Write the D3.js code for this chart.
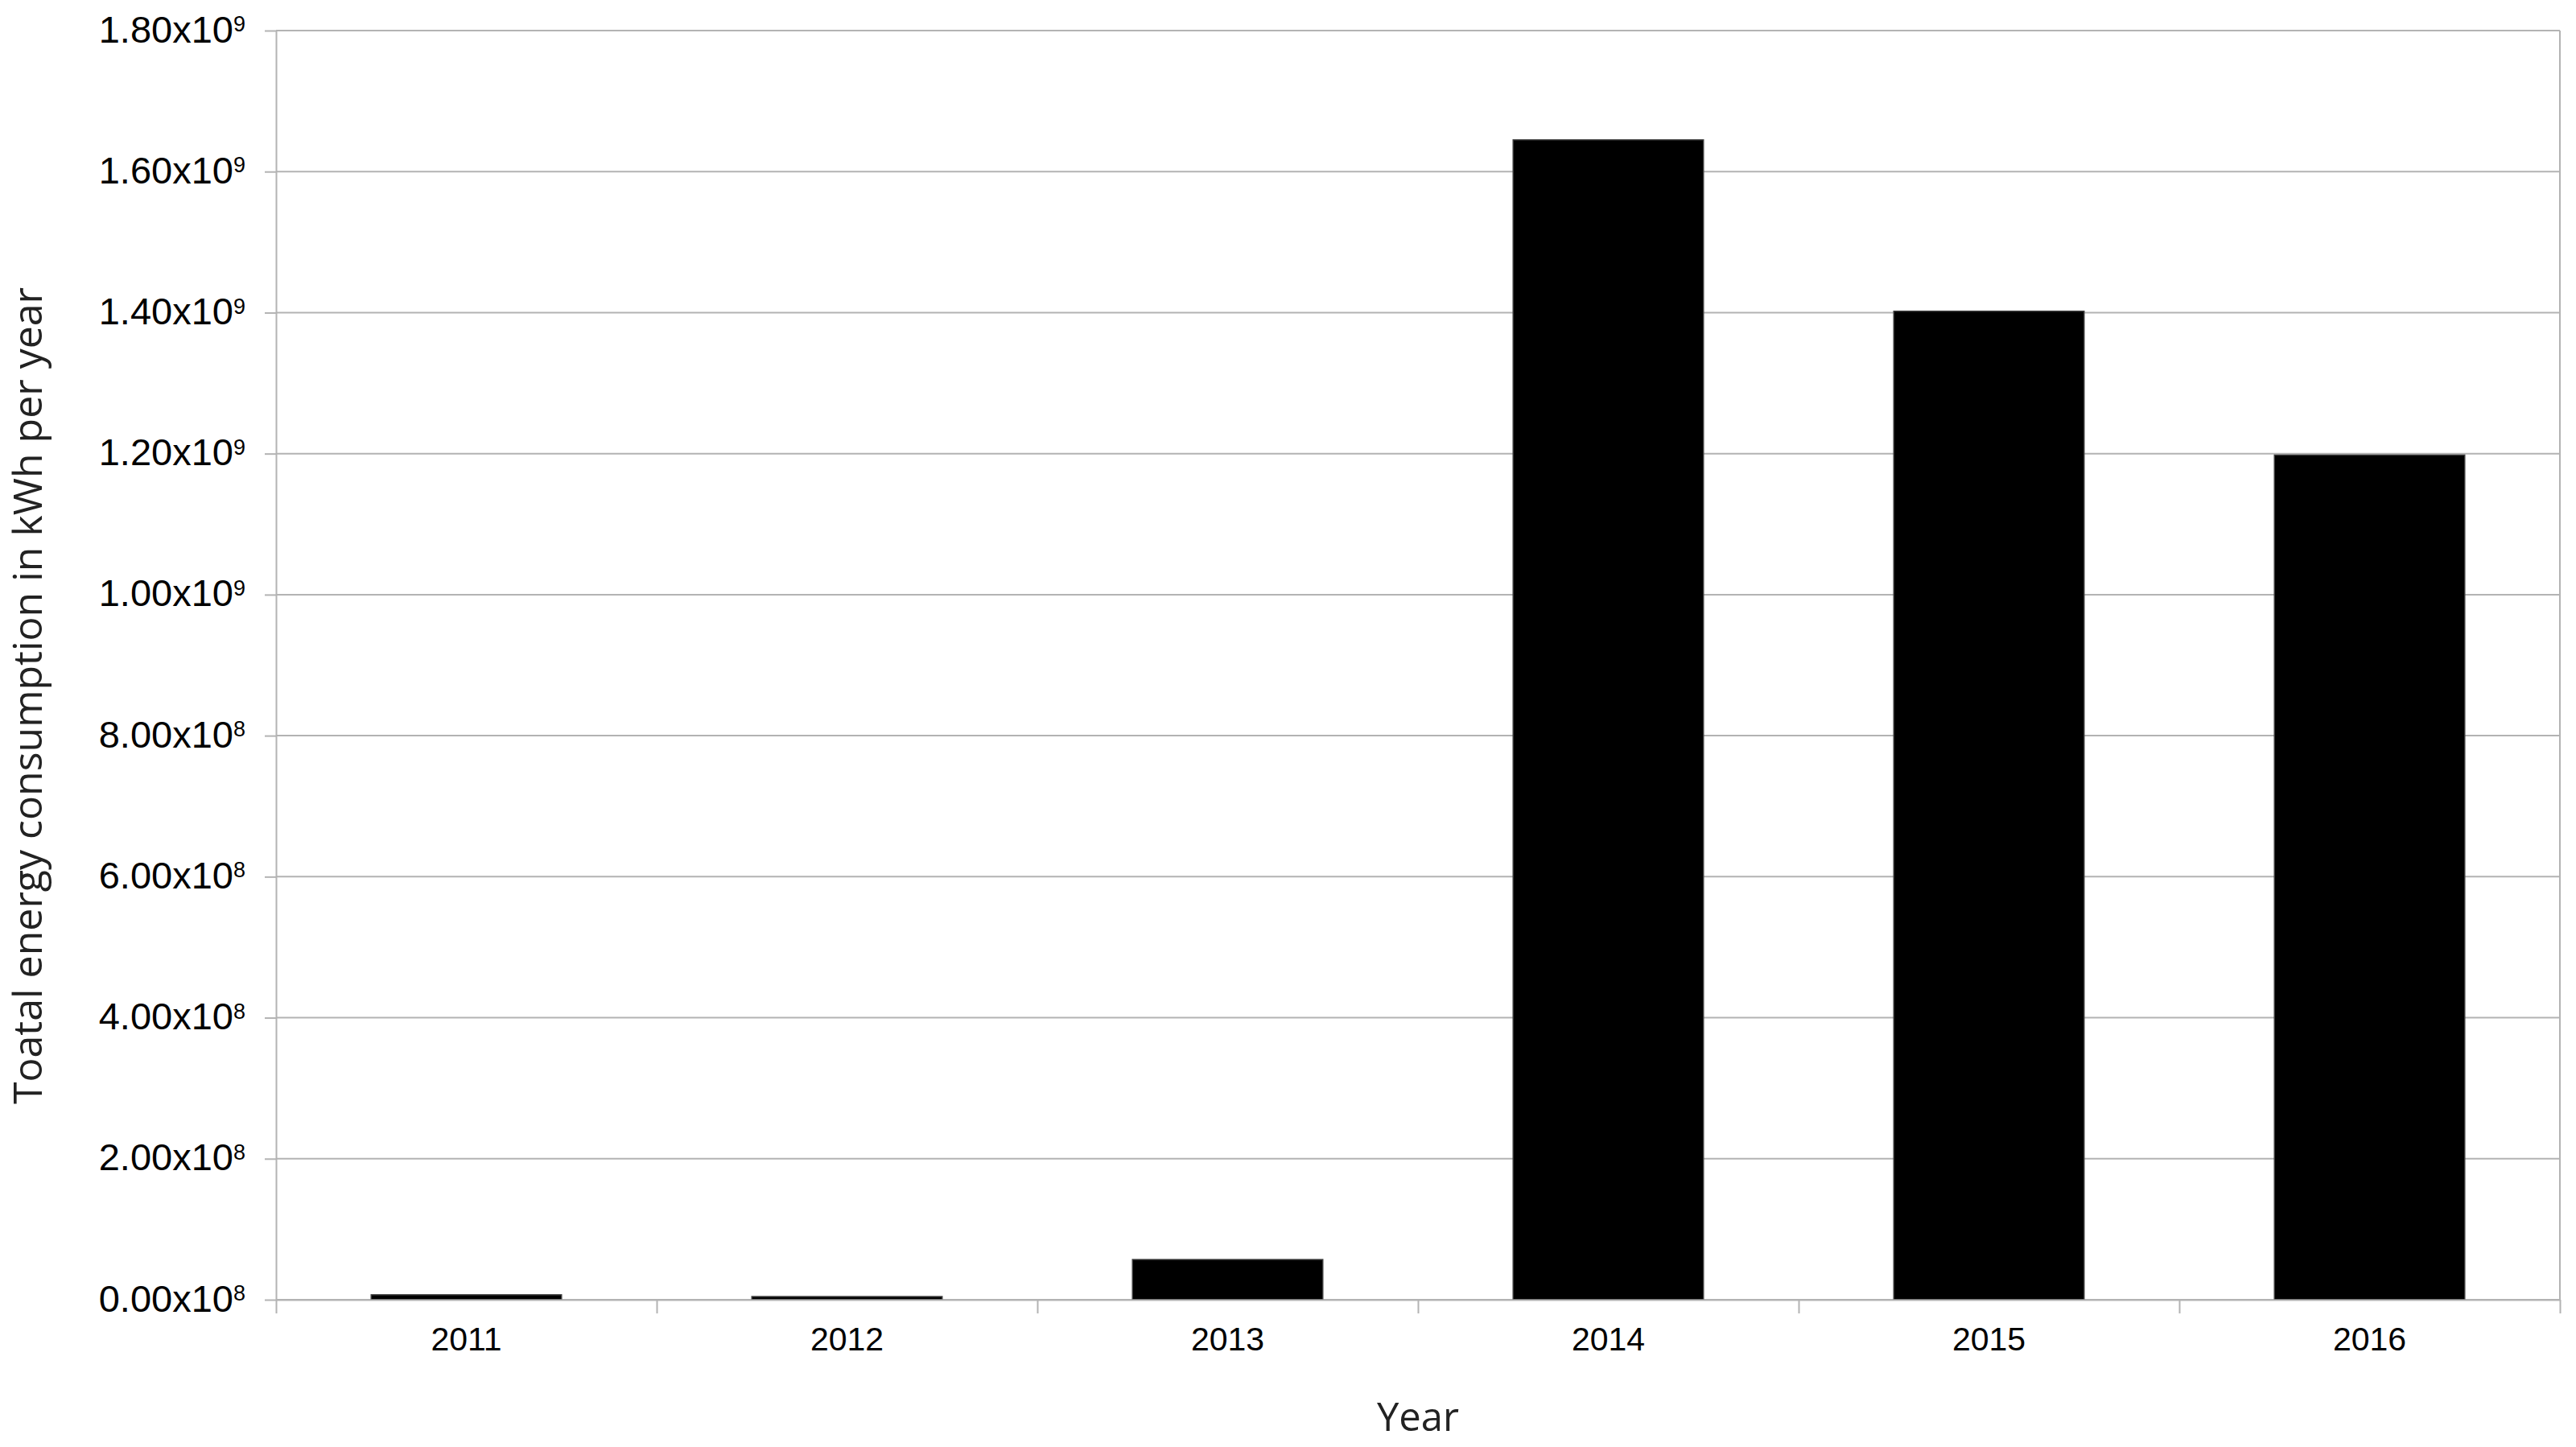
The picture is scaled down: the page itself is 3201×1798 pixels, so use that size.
<!DOCTYPE html>
<html>
<head>
<meta charset="utf-8">
<script src="https://cdn.jsdelivr.net/npm/d3@7"></script>
<style>
  body { margin: 0; background: #fff; }
  .grid line { stroke: #b3b3b3; stroke-width: 2; }
  .axis path, .axis line { stroke: #b3b3b3; stroke-width: 2; }
  .axis text { fill: #000; font-family: "Liberation Sans", Arial, sans-serif; }
  .title { fill: #222; font-family: "Open Sans", "Lato", sans-serif; }
</style>
</head>
<body>
<div id="chart"></div>
<script>
// chart data
var years = ["2011", "2012", "2013", "2014", "2015", "2016"];
var consumption = [7.0e6, 4.5e6, 5.7e7, 1.645e9, 1.402e9, 1.198e9];
var yTicks = [0, 2e8, 4e8, 6e8, 8e8, 1e9, 1.2e9, 1.4e9, 1.6e9, 1.8e9];

var margin = {top: 38, right: 20, bottom: 183, left: 343},
    width = 3201 - margin.left - margin.right,
    height = 1798 - margin.top - margin.bottom;

var svg = d3.select("#chart").append("svg")
    .attr("width", 3201)
    .attr("height", 1798)
  .append("g")
    .attr("transform", "translate(" + margin.left + "," + margin.top + ")");

var x = d3.scaleBand()
    .domain(years)
    .range([0, width])
    .paddingInner(0.5)
    .paddingOuter(0.25);

// boundaries between the categories
var xEdge = d3.scaleLinear()
    .domain([0, years.length])
    .range([0, width]);

var y = d3.scaleLinear()
    .domain([0, 1.8e9])
    .range([height, 0]);

// horizontal grid
svg.append("g")
    .attr("class", "grid")
  .selectAll("line")
  .data(yTicks)
  .enter().append("line")
    .attr("x1", 0)
    .attr("x2", width)
    .attr("y1", function(d) { return y(d); })
    .attr("y2", function(d) { return y(d); });

// right border
svg.append("line")
    .attr("x1", width).attr("x2", width)
    .attr("y1", 0).attr("y2", height)
    .style("stroke", "#b3b3b3")
    .style("stroke-width", 2);

// bars
svg.selectAll(".bar")
    .data(consumption)
  .enter().append("rect")
    .attr("class", "bar")
    .attr("x", function(d, i) { return x(years[i]); })
    .attr("width", x.bandwidth())
    .attr("y", function(d) { return y(d); })
    .attr("height", function(d) { return height - y(d); })
    .style("fill", "#000")
    .style("stroke", "#3c3c3c")
    .style("stroke-width", 1.5);

// y axis with mantissa x 10^exp labels
var yAxis = svg.append("g")
    .attr("class", "axis")
    .call(d3.axisLeft(y).tickValues(yTicks).tickSize(14).tickSizeOuter(0).tickPadding(24).tickFormat(""));

yAxis.selectAll(".tick text")
    .style("font-size", "47px")
    .attr("dy", "0.3em")
    .each(function(d) {
      var exp = d >= 1e9 ? 9 : 8;
      var t = d3.select(this);
      t.append("tspan").text((d / Math.pow(10, exp)).toFixed(2) + "x10");
      t.append("tspan")
        .attr("dy", "-0.5em")
        .style("font-size", "27px")
        .text(exp);
    });

// x axis: tick marks on category edges
svg.append("g")
    .attr("class", "axis")
    .attr("transform", "translate(0," + height + ")")
    .call(d3.axisBottom(xEdge).tickValues(d3.range(years.length + 1)).tickSize(17).tickSizeOuter(0).tickFormat(""));

// x axis labels
var xAxis = svg.append("g")
    .attr("class", "axis")
    .attr("transform", "translate(0," + height + ")")
    .call(d3.axisBottom(x).tickSize(0).tickPadding(34));
xAxis.select(".domain").remove();
xAxis.selectAll("text").style("font-size", "41px");

// axis titles
svg.append("text")
    .attr("class", "title")
    .attr("x", width / 2)
    .attr("y", height + 163)
    .attr("text-anchor", "middle")
    .style("font-size", "49px")
    .text("Year");

svg.append("text")
    .attr("class", "title")
    .attr("transform", "rotate(-90)")
    .attr("x", -(1378 - margin.top + 351 - margin.top) / 2)
    .attr("y", -343 + 52)
    .attr("text-anchor", "middle")
    .style("font-size", "50px")
    .text("Toatal energy consumption in kWh per year");
</script>
</body>
</html>
